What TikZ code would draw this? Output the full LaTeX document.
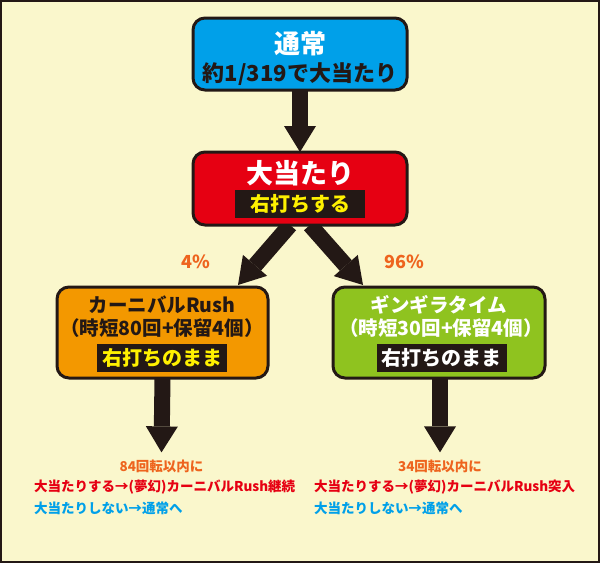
\documentclass[tikz,border=0pt]{standalone}
\usepackage{fontspec}
\setmainfont{Noto Sans CJK JP}
\usetikzlibrary{arrows.meta,backgrounds}
\definecolor{cream}{RGB}{250, 247, 204}
\definecolor{inkblack}{RGB}{35, 24, 21}
\definecolor{skyblue}{RGB}{0, 160, 233}
\definecolor{jackpotred}{RGB}{230, 0, 18}
\definecolor{carnivalorange}{RGB}{243, 152, 0}
\definecolor{gingiragreen}{RGB}{143, 195, 31}
\definecolor{lemon}{RGB}{255, 241, 0}
\definecolor{rateorange}{RGB}{238, 100, 30}

\begin{document}
\begin{tikzpicture}[x=1pt, y=-1pt,
        statebox/.style={draw=inkblack, line width=3pt, rounded corners=12pt, inner sep=0pt, outer sep=0pt},
        bigarrow/.style={color=inkblack, line width=16pt, -{Triangle[width=32pt, length=26pt, line width=0pt]}},
        band/.style={fill=inkblack, inner sep=0pt, minimum width=130pt, minimum height=28pt, font=\bfseries\fontsize{20}{24}\selectfont},
        txt/.style={inner sep=0pt, font=\bfseries\fontsize{19.5}{23}\selectfont},
        note/.style={inner sep=0pt, font=\bfseries\fontsize{13.5}{16}\selectfont}]
            \node[statebox, fill=skyblue,        minimum width=214pt, minimum height=72pt] (tsujo)    at (300.0,  54.0) {};
            \node[statebox, fill=jackpotred,     minimum width=214pt, minimum height=73pt] (ooatari)  at (300.0, 188.5) {};
            \node[statebox, fill=carnivalorange, minimum width=211pt, minimum height=91pt] (carnival) at (162.5, 332.5) {};
            \node[statebox, fill=gingiragreen,   minimum width=212pt, minimum height=91pt] (gingira)  at (439.0, 332.5) {};

            \node[txt, text=white,    font=\bfseries\fontsize{26}{30}\selectfont] (tsujotitle) at (300, 44) {通常};
            \node[txt, text=inkblack, font=\bfseries\fontsize{22}{26}\selectfont] (tsujorate)  at (300, 74) {約1/319で大当たり};

            \node[txt, text=white,    font=\bfseries\fontsize{27}{31}\selectfont] (ooatarititle) at (300, 173.5) {大当たり};
            \node[band, text=lemon]                                              (ooatariband)  at (300, 204)   {右打ちする};

            \node[txt, text=inkblack] (carnivaltitle) at (162, 305) {カーニバルRush};
            \node[txt, text=inkblack] (carnivalspec)  at (162, 328) {（時短80回+保留4個）};
            \node[band, text=lemon]   (carnivalband)  at (162, 358) {右打ちのまま};

            \node[txt, text=white]    (gingiratitle)  at (439, 305) {ギンギラタイム};
            \node[txt, text=white]    (gingiraspec)   at (441, 328) {（時短30回+保留4個）};
            \node[band, text=white]   (gingiraband)   at (441.5, 358) {右打ちのまま};

            \node[txt, text=rateorange, font=\bfseries\fontsize{18}{22}\selectfont] (carnivalrate) at (196, 262) {4\%};
            \node[txt, text=rateorange, font=\bfseries\fontsize{18}{22}\selectfont] (gingirarate)  at (404, 262) {96\%};

            \node[note, text=rateorange]             (carnivalhead) at (161.5, 466) {84回転以内に};
            \node[note, text=jackpotred, anchor=west] (carnivalwin)  at ( 34.0, 487) {大当たりする→(夢幻)カーニバルRush継続};
            \node[note, text=skyblue,    anchor=west] (carnivallose) at ( 34.0, 508) {大当たりしない→通常へ};

            \node[note, text=rateorange]             (gingirahead)  at (440.0, 466) {34回転以内に};
            \node[note, text=jackpotred, anchor=west] (gingirawin)   at (314.0, 487) {大当たりする→(夢幻)カーニバルRush突入};
            \node[note, text=skyblue,    anchor=west] (gingiralose)  at (314.0, 508) {大当たりしない→通常へ};

            \begin{scope}[on background layer]
                \filldraw[color=inkblack, fill=cream, line width=2pt] (1, 1) rectangle (599, 562);
                \draw[bigarrow] (tsujo.south)              -- (ooatari.north);
                \draw[bigarrow] ([xshift=-10pt]ooatari.south) -- ([xshift=-30pt, yshift=2pt]carnival.north east);
                \draw[bigarrow] ([xshift= 10pt]ooatari.south) -- ([xshift= 30pt, yshift=2pt]gingira.north west);
                \draw[bigarrow] (carnival.south)           -- ([yshift=7pt]carnivalhead.north);
                \draw[bigarrow] ([xshift=1pt]gingira.south) -- ([yshift=7pt]gingirahead.north);
            \end{scope}
        \end{tikzpicture}
\end{document}
